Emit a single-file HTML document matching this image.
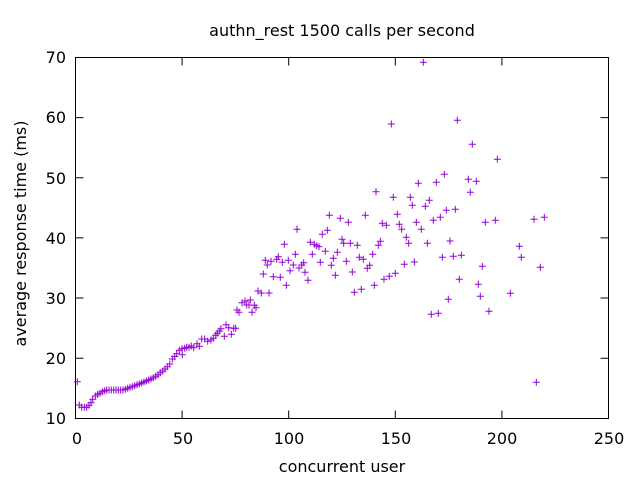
<!DOCTYPE html>
<html><head><meta charset="utf-8"><style>
html,body{margin:0;padding:0;background:#fff;}
svg{display:block;}
text{font-family:"DejaVu Sans","Liberation Sans",sans-serif;font-size:16px;fill:#000;}
</style></head><body>
<svg width="640" height="480" viewBox="0 0 640 480" xmlns="http://www.w3.org/2000/svg">
<defs>
<marker id="cross" markerUnits="userSpaceOnUse" markerWidth="8" markerHeight="8" refX="4" refY="4" overflow="visible">
<path d="M0.5 4h7M4 0.5v7" stroke="#9400d3" stroke-width="1" fill="none"/>
</marker>
</defs>
<rect width="640" height="480" fill="#fff"/>
<text x="342" y="36" text-anchor="middle">authn_rest 1500 calls per second</text>
<g stroke="#000" stroke-width="1" fill="none">
<rect x="75.5" y="57.5" width="533" height="361"/>
<path d="M75.5 358.2h8M75.5 298h8M75.5 237.9h8M75.5 177.8h8M75.5 117.6h8M608.5 358.2h-8M608.5 298h-8M608.5 237.9h-8M608.5 177.8h-8M608.5 117.6h-8M182.1 418.5v-8M288.7 418.5v-8M395.3 418.5v-8M501.9 418.5v-8M182.1 57.5v8M288.7 57.5v8M395.3 57.5v8M501.9 57.5v8"/>
</g>
<g text-anchor="end">
<text x="66" y="424">10</text>
<text x="66" y="364">20</text>
<text x="66" y="304">30</text>
<text x="66" y="244">40</text>
<text x="66" y="184">50</text>
<text x="66" y="123">60</text>
<text x="66" y="63">70</text>
</g>
<g text-anchor="middle">
<text x="77" y="444">0</text>
<text x="183" y="444">50</text>
<text x="289" y="444">100</text>
<text x="396" y="444">150</text>
<text x="502" y="444">200</text>
<text x="609" y="444">250</text>
<text x="342" y="472">concurrent user</text>
<text transform="translate(26,233.5) rotate(-90)">average response time (ms)</text>
</g>
<path fill="none" stroke="none" marker-start="url(#cross)" marker-mid="url(#cross)" marker-end="url(#cross)" d="M77.3 381.7 L79.3 405 L81.7 407.3 L84.3 407.3 L86.7 407.3 L89 405.3 L91 402.7 L92.7 399.3 L95.3 396 L97.7 394.3 L100 393.3 L102.3 391.7 L104.7 390.7 L106.7 390 L109 390 L111.3 390 L113.7 390 L116 390 L118.3 390 L120.7 390 L123 390 L125.3 389.3 L127.7 388.3 L130 387.3 L132.3 386.7 L134.7 385.7 L137 384.7 L139.3 384 L141.7 383 L144 382 L146.3 381 L148.7 380 L151 379 L153.3 377.7 L155.7 376.3 L158 374.7 L160.3 372.7 L162.7 371 L165 369 L167.3 366.7 L169.7 364 L172.3 359 L174.7 356.5 L176.7 353.7 L179.3 350.3 L182 348.7 L182.3 354.7 L184.7 348.3 L186.7 347.3 L189 347.3 L191.3 346 L193.7 347.7 L197 343.7 L199.3 346.3 L201.7 339 L204.7 339 L207.7 341.3 L211 340 L213.3 338.3 L215.7 335.3 L217.3 333.3 L219.3 331 L221 328.7 L224.3 336.3 L226 324.7 L228.7 327.7 L231.3 334.3 L233.7 328.3 L235.7 328.3 L237 310 L239 312.3 L242 302.7 L245 301 L246.7 305 L249 305 L250.3 300 L252 312.3 L254.3 305.3 L256 307.7 L258 291 L261.3 293 L269 293 L263.3 274 L265.3 260.3 L267.3 265 L271 261.3 L273.3 276.7 L276.7 259.3 L278.3 256.7 L280.3 277.3 L282.3 262.3 L284.3 244.3 L286.3 285.3 L288.3 260.3 L290 270.7 L293.3 265 L295.3 254.3 L297 229.3 L299 268 L301.7 265 L303.7 262.7 L305 272.3 L308 280.3 L310.3 242.3 L314.3 244.3 L316.7 245.7 L319 246.7 L312.3 254.3 L320.3 262.3 L322.3 234.3 L325.3 251.3 L327.3 230.3 L329.3 215.3 L331.3 265.3 L333.3 258.3 L335.3 275.3 L337.3 252.3 L340.3 218.3 L342 239.3 L343.7 243.3 L346.3 261.3 L348.3 222.3 L350.3 243.3 L352.3 272 L354.3 292.3 L357.3 245.3 L359.3 257.3 L361.3 289.3 L363.3 259.3 L365.3 215.3 L367.3 268.3 L369.7 265.3 L372.7 254.3 L374.3 285.3 L376 191.7 L378.3 245.3 L380.3 241.3 L382.3 223.3 L384 279.3 L386.3 225.3 L389.3 276.3 L393.3 197.3 L395.3 273.3 L397.3 214.3 L399.3 224.3 L401.7 229.3 L404.3 264.3 L406.3 237.3 L408.7 243.3 L410.3 197.3 L412.3 205.3 L414.3 262 L416.3 222.3 L418.3 183.3 L421.3 229.3 L425.3 206.3 L427.3 243.3 L429.3 200.3 L431.3 314.3 L433.3 220.3 L436.3 182.3 L438.3 313.3 L440.3 217.3 L442.3 257.3 L444.3 174.3 L446.3 210.3 L448.3 299.3 L450 241 L453.3 256.3 L455.3 209.3 L459.3 279.3 L461.3 255.3 L468.3 179.3 L470.3 192.3 L476.3 181.3 L478.3 284.3 L480.3 296.3 L482.3 266.3 L485.3 222.3 L489 311.3 L495.3 220.3 L497.3 159.3 L510.3 293.3 L519.3 246.3 L521.3 257.3 L534 219.3 L540.3 267.3 L544.3 217.3 L423.3 62.3 L391.3 124 L457.3 120.3 L472.3 144.3 L536.3 382.3"/>
</svg>
</body></html>
